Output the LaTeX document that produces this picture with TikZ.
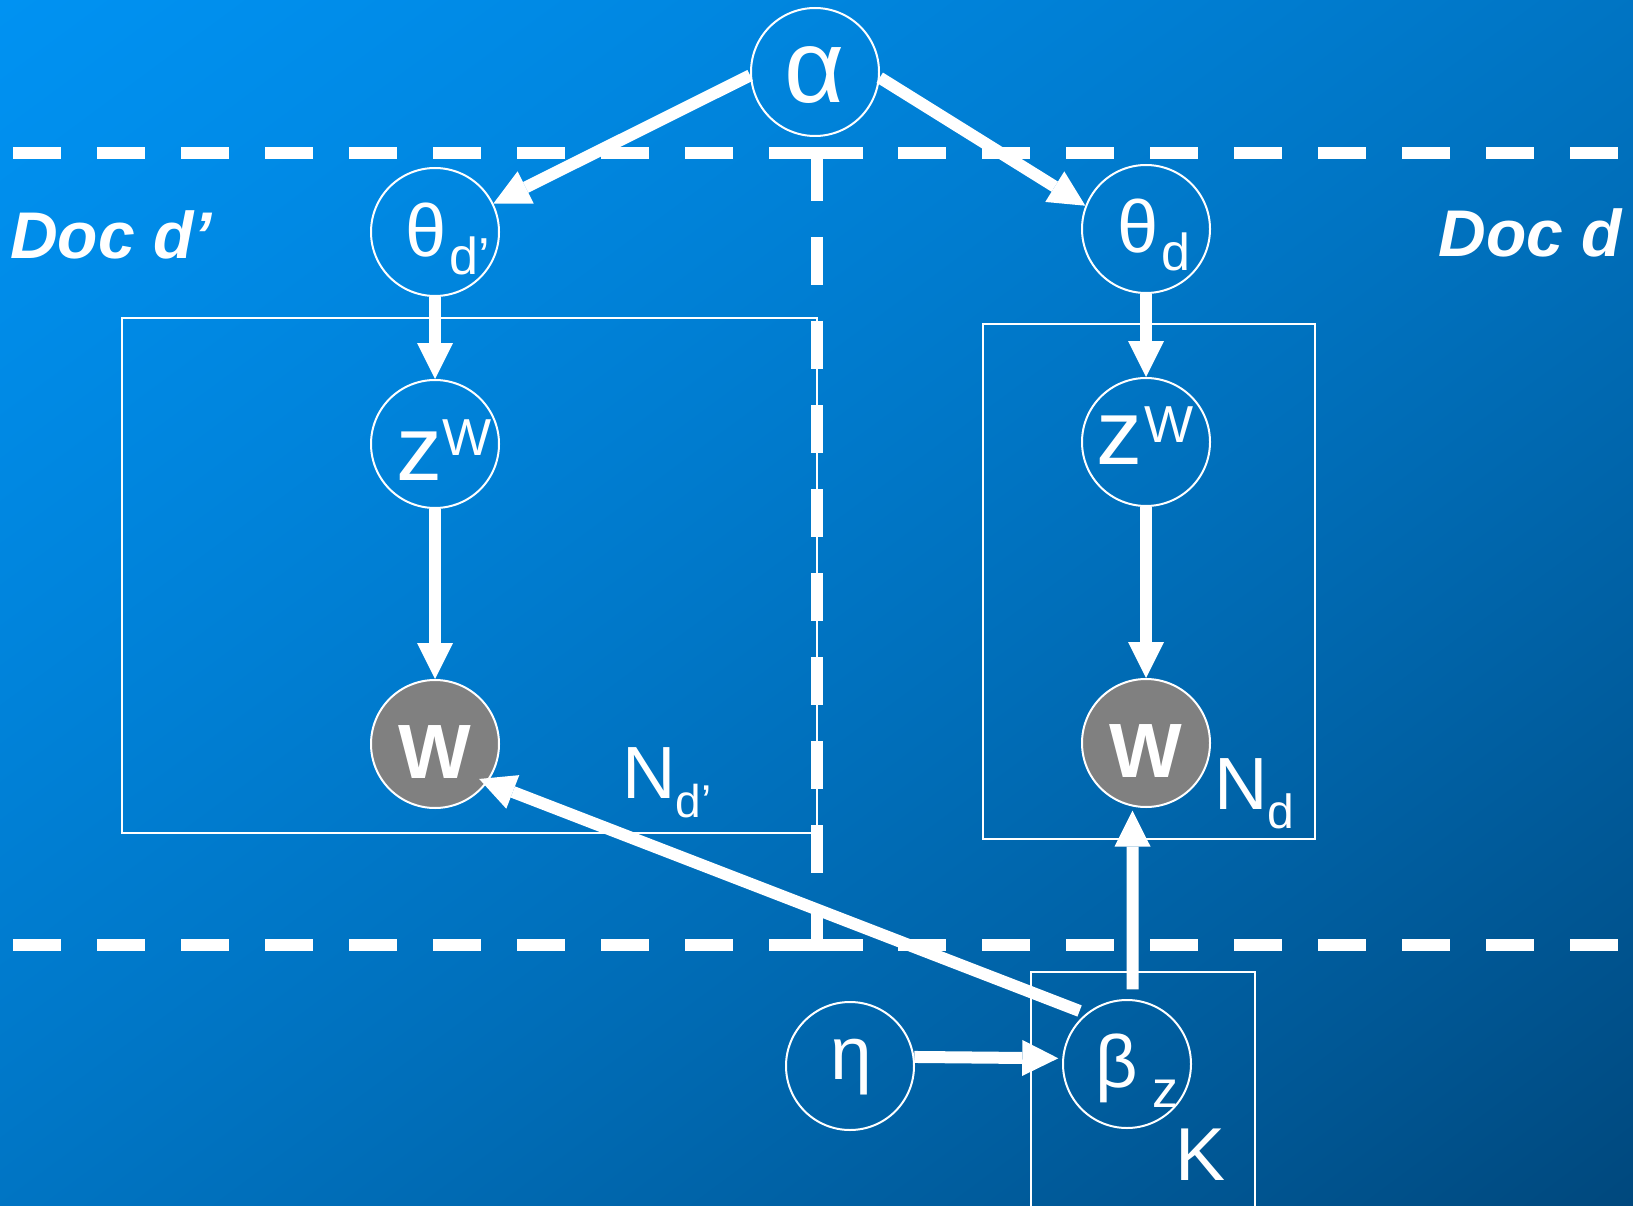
\documentclass[tikz,border=0pt]{standalone}
\usepackage{fontspec}
\setmainfont{Liberation Sans}
\usetikzlibrary{arrows.meta}
\definecolor{wgray}{RGB}{128,128,128}
\pgfdeclarefunctionalshading{bgshade}{\pgfpointorigin}{\pgfpoint{100bp}{100bp}}{}{
  neg add 50 add 100 div
  dup dup mul 0.4 mul exch 0.6 mul add
  dup -0.2902 mul 0.5725 add
  exch -0.4588 mul 0.949 add
  0 3 1 roll
}
\newcommand\glyph[4]{\makebox[0pt][l]{\raisebox{#2}[0pt][0pt]{\hspace*{#1}\makebox[0pt]{#3\rlap{#4}}}}}
\newcommand\fs[1]{\fontsize{#1}{#1}\selectfont}
\begin{document}
\begin{tikzpicture}[x=1pt,y=-1pt,
  circ/.style={circle, draw=white, line width=2pt, minimum size=128pt, inner sep=0pt, text=white},
  obs/.style={circ, fill=wgray},
  arr/.style={draw=white, line width=12pt, -{Triangle[length=36pt,width=36pt,line width=0pt]}},
  dashln/.style={draw=white, line width=12.5pt, dash pattern=on 48pt off 36pt},
  solidln/.style={draw=white, line width=12.5pt},
  plate/.style={draw=white, line width=2.2pt},
  lbl/.style={text=white, inner sep=0pt}]
\useasboundingbox (0,0) rectangle (1633,1206);
\clip (0,0) rectangle (1633,1206);
\shade[shading=bgshade] (0,0) rectangle (1633,1206);

% dashed separators
\draw[dashln] (13,153) -- (733,153);
\draw[solidln] (769,153) -- (863,153);
\draw[dashln] (898,153) -- (1618,153);
\draw[dashln] (13,945) -- (733,945);
\draw[solidln] (769,945) -- (863,945);
\draw[dashln] (898,945) -- (1618,945);
\draw[dashln, line width=12pt] (817,153) -- (817,945);

% plates
\draw[plate] (122,318) rectangle (817,833);
\draw[plate] (983,324) rectangle (1315,839);
\draw[plate] (1031,1215) -- (1031,972) -- (1255,972) -- (1255,1215);

% nodes
\node[circ] (alpha) at (815,72) {\glyph{0pt}{-31pt}{\fs{104}α}{}};
\node[circ] (thl) at (435,232) {\glyph{-9pt}{-25pt}{\fs{74}θ}{\hspace*{3pt}\raisebox{-18pt}{\fs{52}d’}}};
\node[circ] (thr) at (1146,229) {\glyph{-8pt}{-24pt}{\fs{74}θ}{\hspace*{3pt}\raisebox{-18pt}{\fs{52}d}}};
\node[circ] (zl) at (435,444) {\glyph{-16pt}{-36pt}{\fs{92}z}{\raisebox{25pt}{\fs{52}W}}};
\node[circ] (zr) at (1146,442) {\glyph{-27pt}{-22pt}{\fs{92}z}{\hspace*{2pt}\raisebox{22pt}{\fs{52}W}}};
\node[obs] (wl) at (435,744) {\glyph{0pt}{-34pt}{\fs{77}\bfseries W}{}};
\node[obs] (wr) at (1146,743) {\glyph{0pt}{-34pt}{\fs{77}\bfseries W}{}};
\node[circ] (eta) at (850,1066) {\glyph{1pt}{-13pt}{\fs{75}η}{}};
\node[circ] (beta) at (1127,1064) {\glyph{-10pt}{-23pt}{\fs{74}β}{\hspace*{14pt}\raisebox{-20pt}{\fs{52}z}}};

% labels
\node[lbl, anchor=base west, font=\fs{74}] (Ndl) at (622,798) {N\raisebox{-19pt}{\fs{46}d’}};
\node[lbl, anchor=base west, font=\fs{74}] (Ndr) at (1214,809) {N\raisebox{-19pt}{\fs{48}d}};
\node[lbl, anchor=base west, font=\fs{75}] (K) at (1175,1180) {K};
\node[lbl, anchor=base west, font=\fs{66}\bfseries\itshape] (docl) at (10,259) {Doc d’};
\node[lbl, anchor=base east, font=\fs{66}\bfseries\itshape] (docr) at (1622,257) {Doc d};

% arrows
\draw[arr] (alpha.183) -- (thl.26);
\draw[arr] (alpha.-5) -- (thr.159);
\draw[arr] (thl.south) -- (zl.north);
\draw[arr] (zl.south) -- (wl.north);
\draw[arr] (thr.south) -- (zr.north);
\draw[arr] (zr.south) -- (wr.north);
\draw[arr, shorten <=7pt, shorten >=-9pt] (beta.129) -- (wl.-36);
\draw[arr, shorten <=10pt, shorten >=4pt] (beta.85) -- (wr.258);
\draw[arr, shorten >=4pt] (eta.8) -- (beta.175);
\end{tikzpicture}
\end{document}
